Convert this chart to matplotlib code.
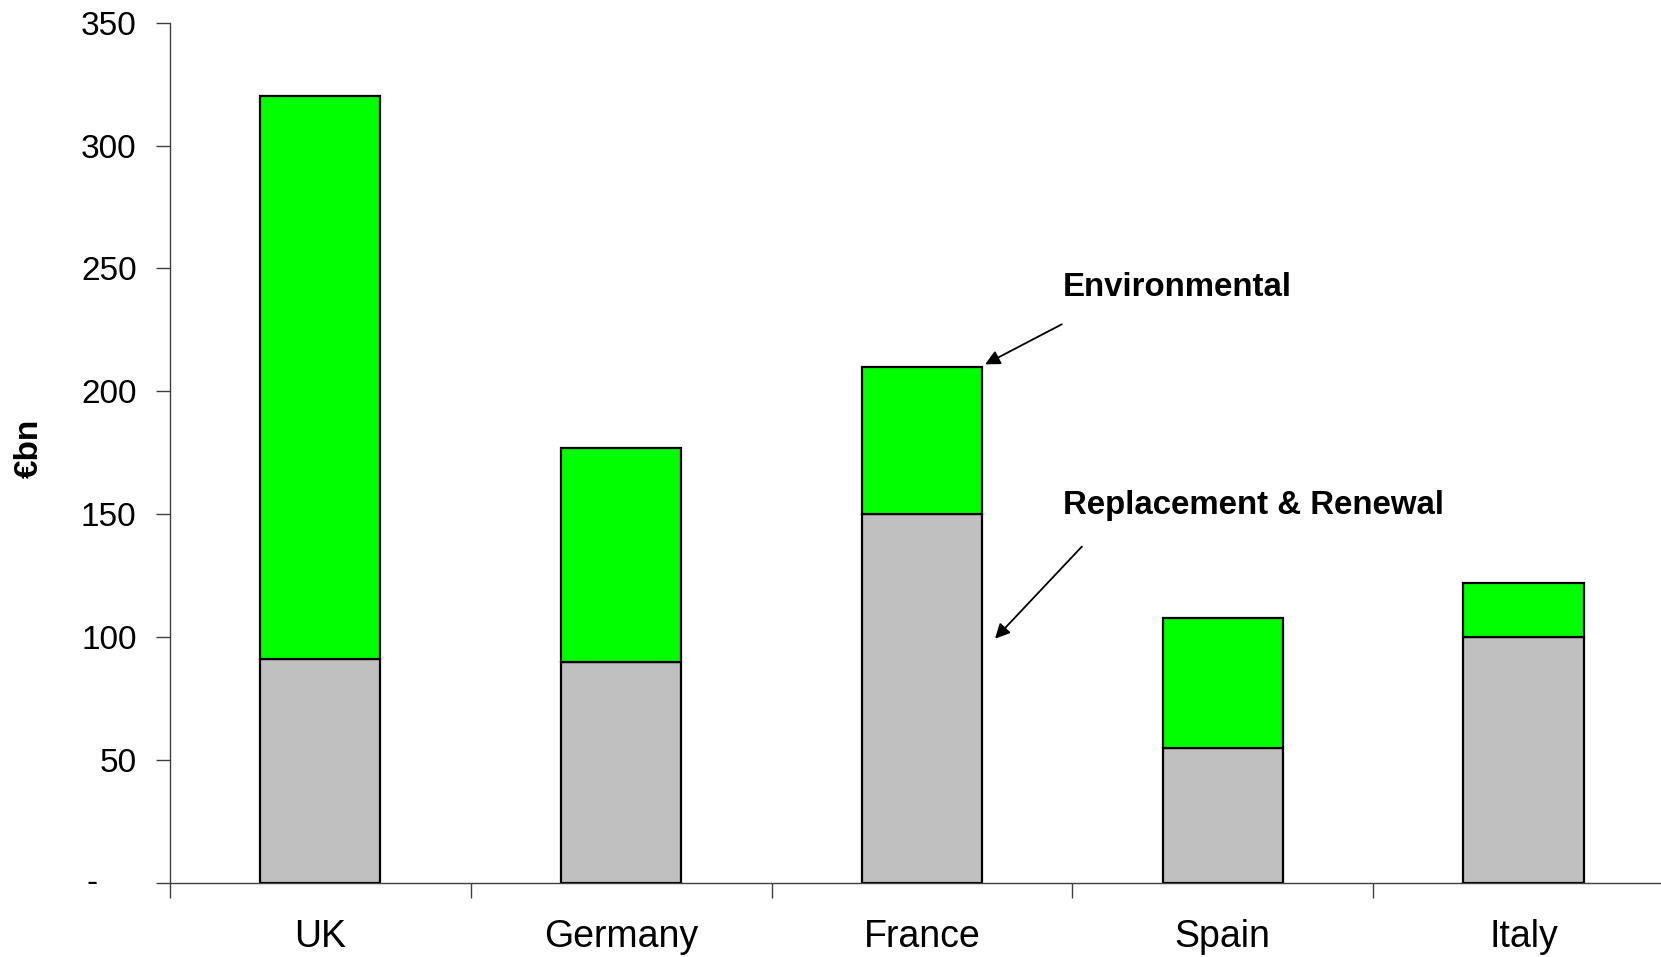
import matplotlib.pyplot as plt
import numpy as np

plt.rcParams["font.family"] = ["Liberation Sans", "DejaVu Sans"]

countries = ["UK", "Germany", "France", "Spain", "Italy"]
replacement = [91, 90, 150, 55, 100]   # Replacement & Renewal, €bn
environmental = [229, 87, 60, 53, 22]  # Environmental, €bn
yticks = [0, 50, 100, 150, 200, 250, 300, 350]
ytick_labels = ["", "50", "100", "150", "200", "250", "300", "350"]

x = np.arange(len(countries))

fig = plt.figure(figsize=(16.61, 9.57), dpi=100)
ax = fig.add_axes([0.1023, 0.0773, 0.8977, 0.899])

ax.bar(x, replacement, width=0.4, color="#c0c0c0", edgecolor="black", linewidth=1.6, zorder=2)
ax.bar(x, environmental, width=0.4, bottom=replacement, color="#00ff00",
       edgecolor="black", linewidth=1.6, zorder=2)

ax.set_xlim(-0.5, 4.457)
ax.set_ylim(0, 350)

ax.set_yticks(yticks)
ax.set_yticklabels(ytick_labels, fontsize=24)
ax.tick_params(axis="y", length=10, width=1, pad=14, color="#404040")
# zero is shown as a dash, set in from the other labels
ax.text(-0.052, 0, "-", transform=ax.get_yaxis_transform(), fontsize=24,
        ha="center", va="center")

# category names centred, tick marks between categories
ax.set_xticks(x)
ax.set_xticklabels(countries, fontsize=27)
ax.set_xticks(np.arange(len(countries)) - 0.5, minor=True)
ax.tick_params(axis="x", which="major", length=0, pad=26)
ax.tick_params(axis="x", which="minor", length=11, width=1, color="#404040")

for side in ["top", "right"]:
    ax.spines[side].set_visible(False)
for side in ["left", "bottom"]:
    ax.spines[side].set_color("#404040")
    ax.spines[side].set_linewidth(1)

ax.set_ylabel("€bn", fontsize=24, fontweight="bold", labelpad=0)
ax.yaxis.set_label_coords(-0.084, 0.505)

arrow = dict(arrowstyle="-|>", color="black", lw=1.3, mutation_scale=22, shrinkA=0, shrinkB=0)
ax.annotate("", xy=(2.21, 211), xytext=(2.465, 227.3), arrowprops=arrow)
ax.text(2.468, 242.4, "Environmental", fontsize=23.8, fontweight="bold", va="center", ha="left")
ax.annotate("", xy=(2.243, 99.4), xytext=(2.532, 136.9), arrowprops=arrow)
ax.text(2.468, 153.7, "Replacement & Renewal", fontsize=23.8, fontweight="bold", va="center", ha="left")

fig.savefig("out.png", dpi=100)
